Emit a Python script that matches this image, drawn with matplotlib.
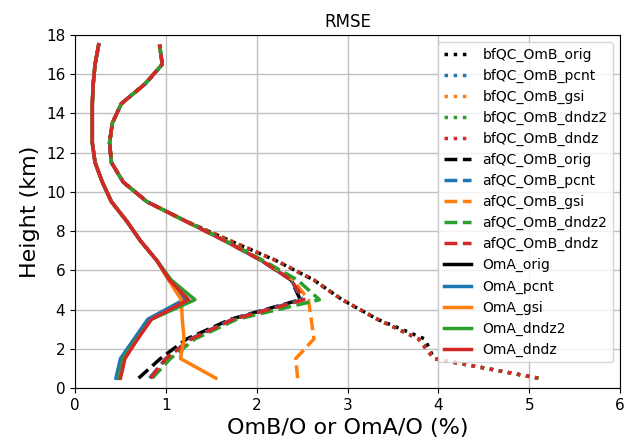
import numpy as np
import matplotlib
matplotlib.use("Agg")
import matplotlib.pyplot as plt

# model levels (km)
height = [0.5, 1.5, 2.5, 3.5, 4.5, 5.5, 6.5, 7.5, 8.5,
          9.5, 10.5, 11.5, 12.5, 13.5, 14.5, 15.5, 16.5, 17.5]

# common upper part (from 8.5 km up) of the OmB curves
omb_top = [1.22, 0.79, 0.53, 0.40, 0.38, 0.41, 0.51, 0.77, 0.96, 0.93]

# before QC OmB RMSE
bf_orig = [5.10, 3.95, 3.85, 3.33, 2.94, 2.63, 2.21, 1.71] + omb_top
bf_pcnt = [5.10, 3.95, 3.78, 3.33, 2.94, 2.63, 2.21, 1.71] + omb_top
bf_gsi = [5.10, 3.95, 3.78, 3.33, 2.94, 2.63, 2.22, 1.72] + omb_top
bf_dndz2 = [5.10, 3.95, 3.78, 3.33, 2.94, 2.63, 2.21, 1.71] + omb_top
bf_dndz = [5.10, 3.95, 3.78, 3.33, 2.94, 2.63, 2.21, 1.71] + omb_top

# after QC OmB RMSE
af_orig = [0.70, 0.94, 1.23, 1.71, 2.48, 2.38, 2.05, 1.65] + omb_top
af_pcnt = [0.82, 1.00, 1.27, 1.73, 2.50, 2.38, 2.05, 1.65] + omb_top
af_gsi = [2.45, 2.43, 2.63, 2.60, 2.57, 2.40, 2.06, 1.66] + omb_top
af_dndz2 = [0.85, 1.05, 1.32, 1.78, 2.69, 2.45, 2.07, 1.66] + omb_top
af_dndz = [0.83, 1.00, 1.28, 1.74, 2.52, 2.38, 2.05, 1.65] + omb_top

# OmA RMSE, upper part shared
oma_top = [0.90, 0.72, 0.57, 0.40, 0.30, 0.22, 0.19, 0.19, 0.19, 0.20, 0.22, 0.26]
oma_orig = [0.47, 0.51, 0.66, 0.81, 1.21, 1.04] + oma_top
oma_pcnt = [0.45, 0.50, 0.65, 0.80, 1.20, 1.04] + oma_top
oma_gsi = [1.55, 1.16, 1.20, 1.18, 1.17, 1.03] + oma_top
oma_dndz2 = [0.48, 0.53, 0.68, 0.84, 1.32, 1.06] + oma_top
oma_dndz = [0.50, 0.55, 0.69, 0.84, 1.25, 1.04] + oma_top

exps = ["orig", "pcnt", "gsi", "dndz2", "dndz"]
colors = ["k", "C0", "C1", "C2", "C3"]
bf = [bf_orig, bf_pcnt, bf_gsi, bf_dndz2, bf_dndz]
af = [af_orig, af_pcnt, af_gsi, af_dndz2, af_dndz]
oma = [oma_orig, oma_pcnt, oma_gsi, oma_dndz2, oma_dndz]

fig = plt.figure(figsize=(6.36, 4.48), dpi=100)
ax = fig.add_axes([0.118, 0.134, 0.857, 0.788])

for e, c, v in zip(exps, colors, bf):
    ax.plot(v, height, ls=":", lw=2.5, color=c, label="bfQC_OmB_" + e)
for e, c, v in zip(exps, colors, af):
    ax.plot(v, height, ls="--", lw=2.5, color=c, label="afQC_OmB_" + e)
for e, c, v in zip(exps, colors, oma):
    ax.plot(v, height, ls="-", lw=2.5, color=c, label="OmA_" + e)

ax.set_xlim(0, 6)
ax.set_ylim(0, 18)
ax.set_xticks(np.arange(0, 7, 1))
ax.set_yticks(np.arange(0, 19, 2))
ax.tick_params(labelsize=11)
ax.grid(True, color="#c0c0c0", lw=1)
ax.set_title("RMSE", fontsize=12)
ax.set_xlabel("OmB/O or OmA/O (%)", fontsize=16)
ax.set_ylabel("Height (km)", fontsize=16)
ax.legend(loc="upper right", fontsize=10)

fig.savefig("out.png", dpi=100)
